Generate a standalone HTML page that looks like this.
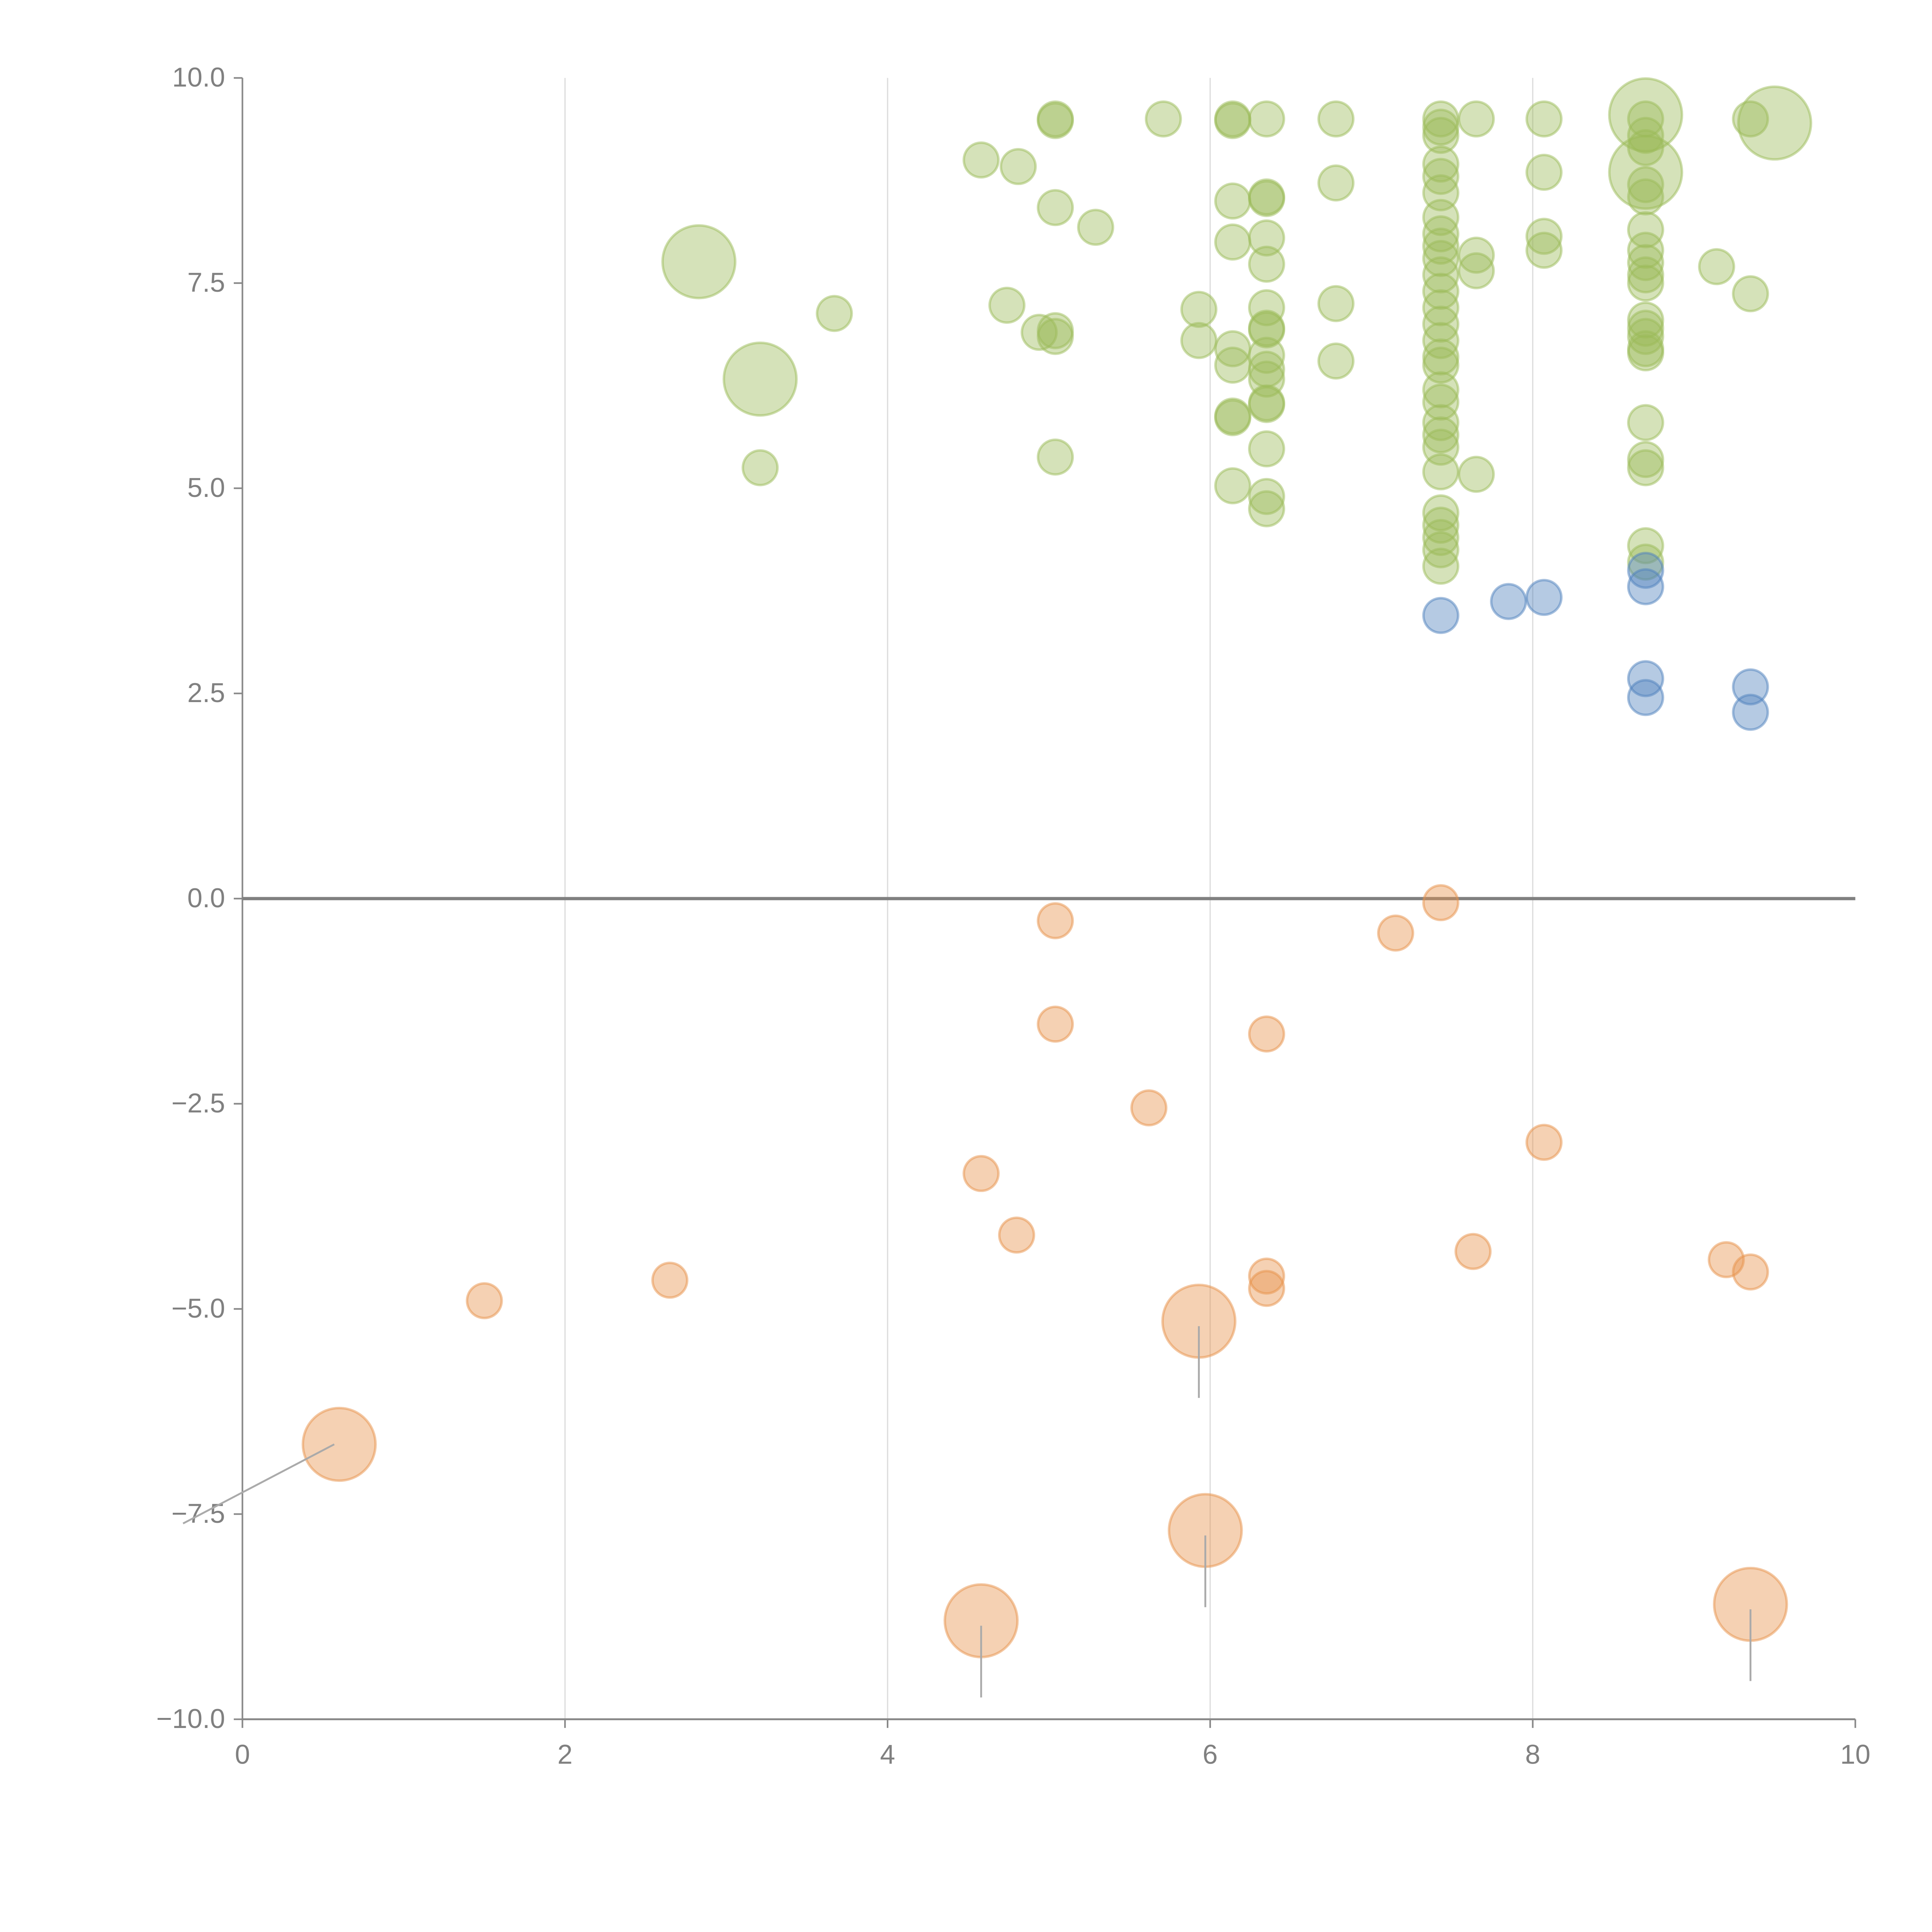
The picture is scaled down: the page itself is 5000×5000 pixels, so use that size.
<!DOCTYPE html>
<html><head><meta charset="utf-8"><style>html,body{margin:0;padding:0;background:#fff}svg{display:block}text{font-family:"Liberation Sans",Arial,sans-serif}</style></head>
<body>
<svg id="chart" width="5000" height="5000" viewBox="0 0 1562 1562" xmlns="http://www.w3.org/2000/svg">
<g id="grid"></g>
<g id="axes"></g>
<g id="marks"></g>
</svg>
<script>
const xTicks=[0,2,4,6,8,10];
const yTicks=[-10,-7.5,-5,-2.5,0,2.5,5,7.5,10];
const yTickLabels=["\u221210.0","\u22127.5","\u22125.0","\u22122.5","0.0","2.5","5.0","7.5","10.0"];
const orangeX=[0.6,1.5,2.65,4.58,4.8,5.04,5.04,5.62,5.93,5.97,4.58,6.35,6.35,6.35,7.15,7.43,7.63,8.07,9.2,9.35,9.35];
const orangeY=[-6.65,-4.9,-4.65,-3.35,-4.1,-0.27,-1.53,-2.55,-5.15,-7.7,-8.8,-1.65,-4.6,-4.75,-0.42,-0.05,-4.3,-2.97,-4.4,-4.55,-8.6];
const orangeS=[4.4,1,1,1,1,1,1,1,4.4,4.4,4.4,1,1,1,1,1,1,1,1,1,4.4];
const blueX=[7.43,7.85,8.07,8.7,8.7,8.7,8.7,9.35,9.35];
const blueY=[3.45,3.62,3.67,3.8,4.0,2.68,2.45,2.58,2.27];
const blueS=[1,1,1,1,1,1,1,1,1];
const greenX=[4.58,4.81,5.04,5.04,5.04,5.29,5.71,6.14,6.14,6.14,6.14,6.35,6.35,6.35,6.35,6.35,6.35,6.35,6.35,6.35,6.35,6.35,6.35,6.35,6.35,6.35,6.35,6.14,6.14,6.14,6.14,6.14,5.93,5.93,6.78,6.78,6.78,6.78,4.74,4.94,5.04,5.04,5.04,3.67,3.21,3.21,2.83,
7.43,7.43,7.43,7.43,7.43,7.43,7.43,7.43,7.43,7.43,7.43,7.43,7.43,7.43,7.43,7.43,7.43,7.43,7.43,7.43,7.43,7.43,7.43,7.43,7.43,7.43,7.43,7.43,
7.65,7.65,7.65,7.65,8.07,8.07,8.07,8.07,
8.7,8.7,8.7,8.7,8.7,8.7,8.7,8.7,8.7,8.7,8.7,8.7,8.7,8.7,8.7,8.7,8.7,8.7,8.7,8.7,8.7,8.7,
9.14,9.35,9.35,9.5];
const greenY=[9.0,8.92,9.5,9.48,8.42,8.18,9.5,9.5,9.48,8.5,8.0,9.5,8.55,8.53,8.05,7.73,7.2,6.95,6.93,6.62,6.45,6.33,6.04,6.02,5.48,4.9,4.75,6.7,6.5,5.88,5.86,5.03,7.18,6.8,9.5,8.72,7.25,6.55,7.23,6.9,6.92,6.85,5.38,7.13,5.25,6.33,7.76,
9.5,9.4,9.3,8.95,8.8,8.6,8.3,8.1,7.95,7.8,7.6,7.4,7.2,7.0,6.8,6.6,6.5,6.2,6.05,5.8,5.65,5.5,5.2,4.7,4.55,4.4,4.25,4.05,
9.5,7.84,7.65,5.17,9.5,8.85,8.07,7.9,
9.55,8.85,9.5,9.3,9.15,8.7,8.55,8.15,7.9,7.75,7.6,7.5,7.05,6.95,6.85,6.7,6.65,5.8,5.35,5.25,4.3,4.1,
7.7,9.5,7.37,9.45];
const greenS=[1,1,1,1,1,1,1,1,1,1,1,1,1,1,1,1,1,1,1,1,1,1,1,1,1,1,1,1,1,1,1,1,1,1,1,1,1,1,1,1,1,1,1,1,1,4.4,4.4,
1,1,1,1,1,1,1,1,1,1,1,1,1,1,1,1,1,1,1,1,1,1,1,1,1,1,1,1,
1,1,1,1,1,1,1,1,
4.4,4.4,1,1,1,1,1,1,1,1,1,1,1,1,1,1,1,1,1,1,1,1,
1,1,1,4.4];
const NS="http://www.w3.org/2000/svg";
const X0=196,X1=1500,Y0=1390,Y1=63;
function sx(v){return X0+(v-0)/(10-0)*(X1-X0);}
function sy(v){return Y0-(v+10)/20*(Y0-Y1);}
function sr(s){return 14*Math.sqrt(s);}
function mk(tag,attrs,parent){const e=document.createElementNS(NS,tag);for(const k in attrs)e.setAttribute(k,attrs[k]);parent.appendChild(e);return e;}
const grid=document.getElementById('grid'),axes=document.getElementById('axes'),marks=document.getElementById('marks');
xTicks.forEach((t,i)=>{
 if(t>0&&t<10){const g=mk('line',{x1:sx(t),x2:sx(t),y1:Y1,y2:Y0,stroke:'#dcdcdc','stroke-width':1},grid);
 
 }
 const tk=mk('line',{x1:sx(t),x2:sx(t),y1:Y0,y2:Y0+7,stroke:'#888','stroke-width':1.3},axes);
 
 
 const tx=mk('text',{x:sx(t),y:Y0+36,'text-anchor':'middle','font-size':22,fill:'#808080'},axes);
 tx.textContent=String(t);
 
 
});
yTicks.forEach((t,i)=>{
 const tk=mk('line',{x1:X0-7,x2:X0,y1:sy(t),y2:sy(t),stroke:'#888','stroke-width':1.3},axes);
 
 
 const tx=mk('text',{x:X0-14,y:sy(t)+7,'text-anchor':'end','font-size':22,fill:'#808080'},axes);
 tx.textContent=yTickLabels[i];
 
 
});
const ya=mk('line',{x1:X0,x2:X0,y1:Y1,y2:Y0,stroke:'#888','stroke-width':1.3},axes);


const xa=mk('line',{x1:X0,x2:X1,y1:Y0,y2:Y0,stroke:'#888','stroke-width':1.5},axes);


const zl=mk('line',{x1:X0,x2:X1,y1:sy(0),y2:sy(0),stroke:'#808080','stroke-width':2.6},axes);


function series(xs,ys,ss,fill,stroke,name){
 xs.forEach((x,i)=>{
  const c=mk('circle',{cx:sx(x),cy:sy(ys[i]),r:sr(ss[i]),fill:fill,'fill-opacity':0.42,stroke:stroke,'stroke-opacity':0.5,'stroke-width':2},marks);
  
  
 });
}
series(greenX,greenY,greenS,'#9bbb59','#9bbb59','green-bubble');
series(blueX,blueY,blueS,'#4f81bd','#4f81bd','blue-bubble');
series(orangeX,orangeY,orangeS,'#e8914a','#e8914a','orange-bubble');
orangeX.forEach((x,i)=>{
 if(orangeS[i]<2)return;
 let l;
 if(x<1){l=mk('line',{x1:sx(x)-4,y1:sy(orangeY[i]),x2:148,y2:sy(orangeY[i])+64,stroke:'#aaa','stroke-width':1.5},marks);}
 else{l=mk('line',{x1:sx(x),y1:sy(orangeY[i])+4,x2:sx(x),y2:sy(orangeY[i])+62,stroke:'#aaa','stroke-width':1.5},marks);}
 
 
});
</script>
</body></html>
